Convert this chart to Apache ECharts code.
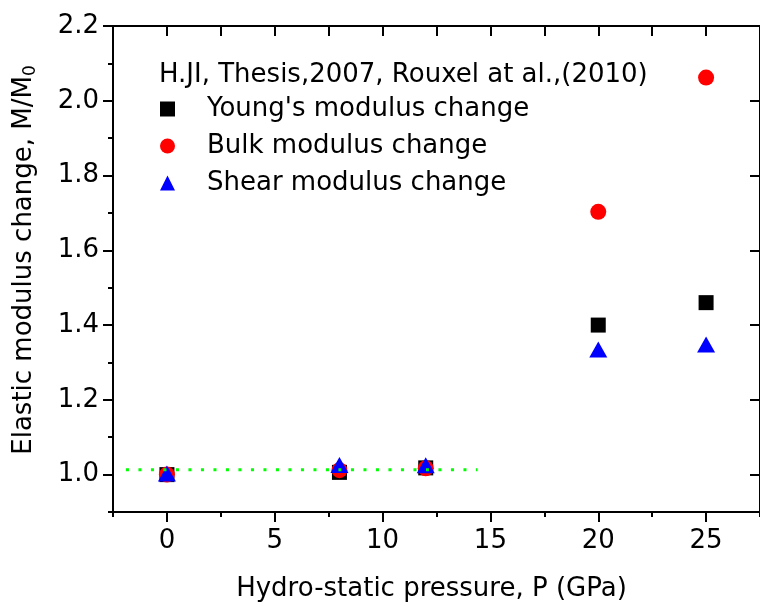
<!DOCTYPE html>
<html>
<head>
<meta charset="utf-8">
<script src="https://cdn.jsdelivr.net/npm/echarts@6/dist/echarts.min.js"></script>
<style>html,body{margin:0;padding:0;background:#fff;}#c{width:760px;height:607px;}</style>
</head>
<body>
<div id="c"></div>
<script>
// ---- data ----
const pressure = [0, 8, 12, 20, 25];
const youngs = [1.000, 1.006, 1.018, 1.400, 1.460];
const bulk   = [1.000, 1.012, 1.017, 1.703, 2.062];
const shear  = [1.003, 1.026, 1.025, 1.335, 1.348];
const refLineX = [-1.9, 14.4];
const refLineY = 1.013;
const xTickLabels = [0, 5, 10, 15, 20, 25];
const xMinorTicks = [-2.5, 0, 2.5, 5, 7.5, 10, 12.5, 15, 17.5, 20, 22.5, 25, 27.5];
const yTickLabels = [1.0, 1.2, 1.4, 1.6, 1.8, 2.0, 2.2];
const yMinorTicks = [0.9, 1.0, 1.1, 1.2, 1.3, 1.4, 1.5, 1.6, 1.7, 1.8, 1.9, 2.0, 2.1, 2.2];
const seriesNames = ["Young's modulus change", "Bulk modulus change", "Shear modulus change"];
const heading = "H.JI, Thesis,2007, Rouxel at al.,(2010)";

const FONT = 'DejaVu Sans';
const FS = 26;
const black = '#000';

const pairs = arr => pressure.map((p, i) => [p, arr[i]]);

const chart = echarts.init(document.getElementById('c'), null, {renderer: 'canvas'});

const xBase = {type: 'value', min: -2.5, max: 27.5, interval: 2.5, splitLine: {show: false}};
const yBase = {type: 'value', min: 0.9, max: 2.2, interval: 0.1, splitLine: {show: false}};
const line = {show: true, onZero: false, lineStyle: {color: black, width: 2}};

chart.setOption({
  backgroundColor: '#fff',
  animation: false,
  grid: {left: 113, top: 26, width: 656, height: 488, containLabel: false},
  textStyle: {fontFamily: FONT, color: black},
  xAxis: [
    Object.assign({}, xBase, {
      position: 'bottom',
      name: 'Hydro-static pressure, P (GPa)',
      nameLocation: 'middle',
      nameGap: 64,
      nameTextStyle: {fontFamily: FONT, fontSize: FS, color: black, padding: [0, 10, 0, 0]},
      axisLine: line,
      axisTick: {show: true, inside: false, length: 10, lineStyle: {color: black, width: 2}, customValues: xTickLabels},
      axisLabel: {show: true, margin: 16, fontFamily: FONT, fontSize: FS, color: black, customValues: xTickLabels, formatter: v => String(v)}
    }),
    Object.assign({}, xBase, {
      position: 'bottom',
      axisLine: {show: false, onZero: false},
      axisTick: {show: true, inside: false, length: 5, lineStyle: {color: black, width: 2}, customValues: xMinorTicks},
      axisLabel: {show: false}
    }),
    Object.assign({}, xBase, {
      position: 'top',
      axisLine: line,
      axisTick: {show: true, inside: true, length: 10, lineStyle: {color: black, width: 2}, customValues: xMinorTicks},
      axisLabel: {show: false}
    })
  ],
  yAxis: [
    Object.assign({}, yBase, {
      position: 'left',
      name: 'Elastic modulus change, M/M{sub|0}',
      nameLocation: 'middle',
      nameGap: 74,
      nameTextStyle: {fontFamily: FONT, fontSize: FS, color: black, padding: [0, 0, 0, 18],
        rich: {sub: {fontFamily: FONT, fontSize: 17, color: black, verticalAlign: 'bottom', padding: [12, 0, 0, 0]}}},
      axisLine: line,
      axisTick: {show: true, inside: false, length: 10, lineStyle: {color: black, width: 2}, customValues: yTickLabels},
      axisLabel: {show: true, margin: 14, fontFamily: FONT, fontSize: FS, color: black, customValues: yTickLabels, formatter: v => v.toFixed(1)}
    }),
    Object.assign({}, yBase, {
      position: 'left',
      axisLine: {show: false, onZero: false},
      axisTick: {show: true, inside: false, length: 5, lineStyle: {color: black, width: 2}, customValues: yMinorTicks},
      axisLabel: {show: false}
    }),
    Object.assign({}, yBase, {
      position: 'right',
      axisLine: line,
      axisTick: {show: true, inside: true, length: 10, lineStyle: {color: black, width: 2}, customValues: yTickLabels},
      axisLabel: {show: false}
    })
  ],
  legend: {
    data: seriesNames,
    orient: 'vertical',
    left: 160,
    top: 96,
    padding: 0,
    itemWidth: 15,
    itemHeight: 15,
    itemGap: 11,
    textStyle: {fontFamily: FONT, fontSize: FS, color: black, lineHeight: 26, padding: [0, 0, 0, 27]},
    selectedMode: false
  },
  graphic: [{
    type: 'text', left: 159, top: 62,
    style: {text: heading, fontFamily: FONT, fontSize: FS, fill: black}
  }],
  series: [
    {name: seriesNames[0], type: 'scatter', symbol: 'rect', symbolSize: 15, itemStyle: {color: '#000', opacity: 1}, data: pairs(youngs)},
    {name: seriesNames[1], type: 'scatter', symbol: 'circle', symbolSize: 16, itemStyle: {color: '#ff0000', opacity: 1}, data: pairs(bulk)},
    {name: seriesNames[2], type: 'scatter', symbol: 'triangle', symbolSize: [18, 16], itemStyle: {color: '#0000ff', opacity: 1}, data: pairs(shear)},
    {name: 'ref', type: 'line', symbol: 'none', z: 5, silent: true,
      lineStyle: {color: '#00ff00', width: 3, type: [3, 9.5]},
      data: [[refLineX[0], refLineY], [refLineX[1], refLineY]]}
  ]
});
</script>
</body>
</html>
